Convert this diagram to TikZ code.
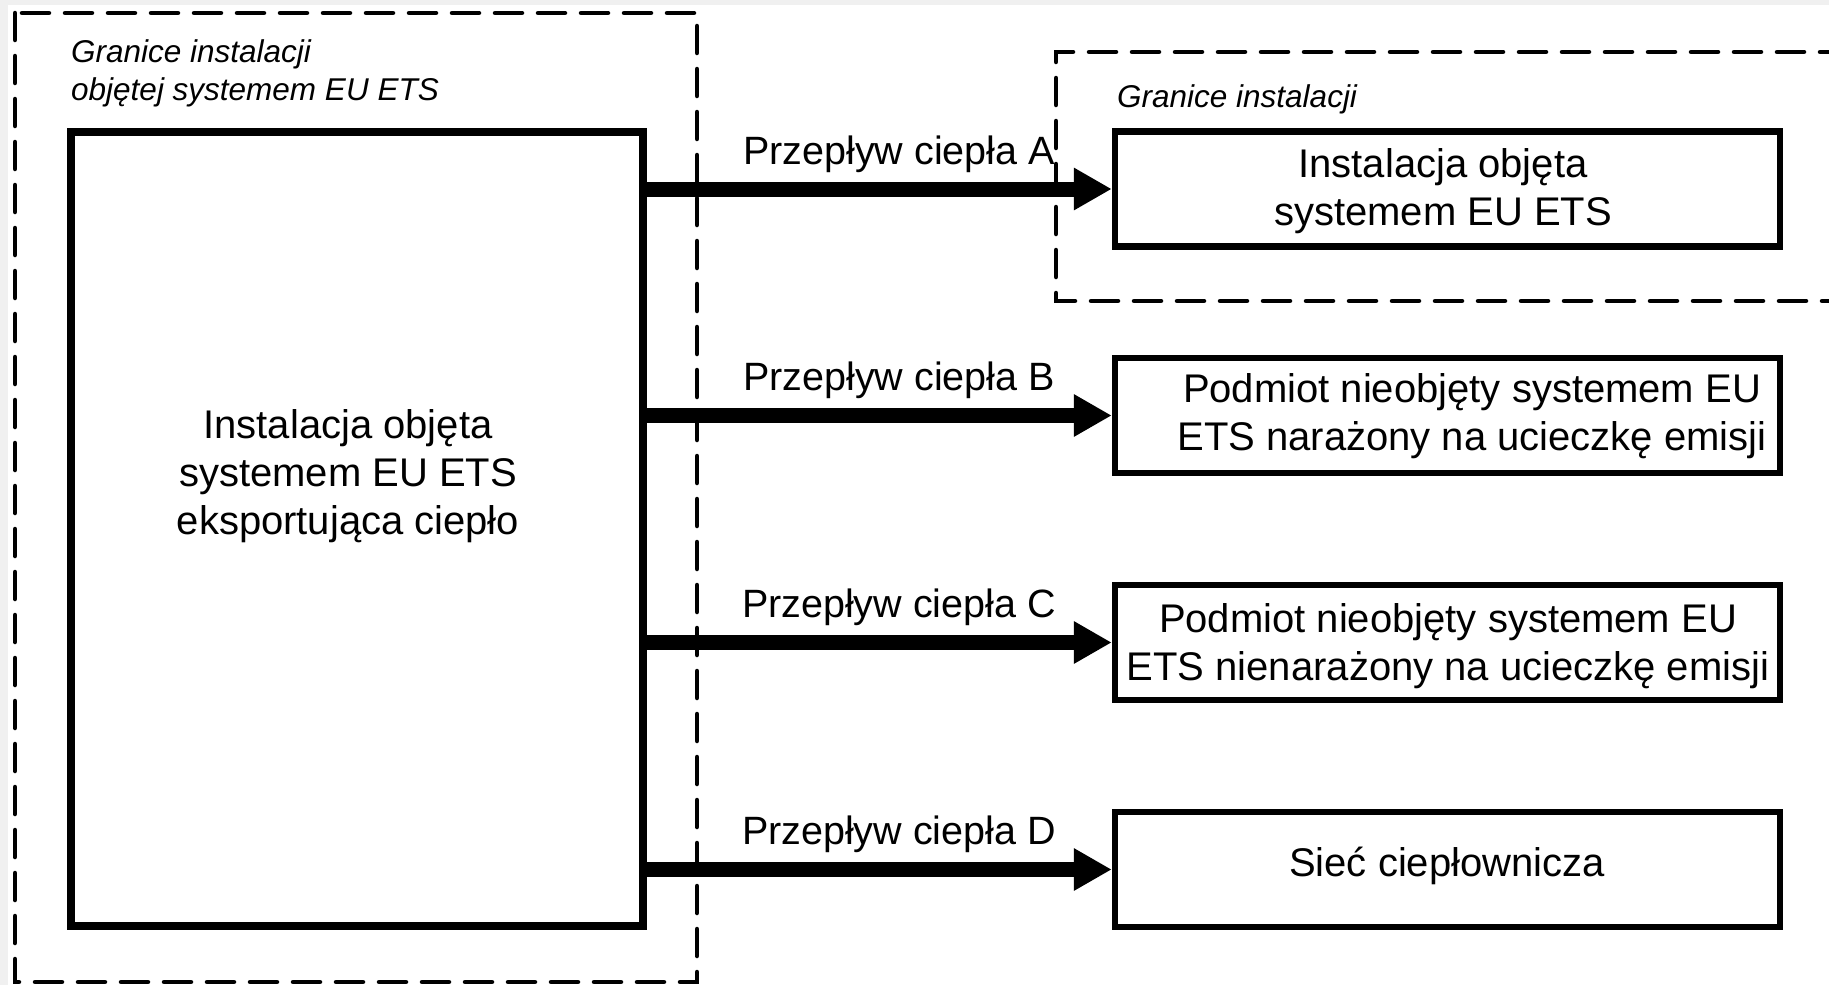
\documentclass[tikz,border=0pt]{standalone}
\usepackage{fontspec}
\setmainfont{Liberation Sans}
\usetikzlibrary{arrows.meta}
\definecolor{bggrey}{HTML}{F0F0F0}
\begin{document}
\begin{tikzpicture}[x=1pt,y=-1pt,
  boundary/.style={line width=4.5pt, dash pattern=on 27pt off 16pt, line cap=round},
  srcbox/.style={draw, line width=8pt, inner sep=0pt, minimum width=572pt, minimum height=794pt},
  tgtbox/.style={draw, line width=6.5pt, inner sep=0pt, minimum width=665pt, minimum height=115pt},
  maintxt/.style={font=\fontsize{40}{48}\selectfont, align=center, inner sep=0pt},
  labtxt/.style={font=\fontsize{39.5}{48}\selectfont, inner sep=0pt, anchor=base},
  bndtxt/.style={font=\fontsize{31.5}{38.5}\selectfont\itshape, align=left, inner sep=0pt},
  flow/.style={line width=15pt, -{Triangle[length=38pt,width=40pt]}}
]
\fill[bggrey] (0,0) rectangle (1829,985);
\fill[white] (8,5) rectangle (1829,985);
\useasboundingbox (0,0) rectangle (1829,985);

% boundaries
\draw[boundary] (15,13) rectangle (697,982);
\draw[boundary] (1890,52) -- (1056,52) -- (1056,301) -- (1890,301);
\node[bndtxt, anchor=north west] (gL) at (71,39) {Granice instalacji\\objętej systemem EU ETS};
\node[bndtxt, anchor=base west] (gR) at (1117,107) {Granice instalacji};

% source installation
\node[srcbox] (src) at (357,529) {};
\node[maintxt] (srct) at (348,476) {Instalacja objęta\\systemem EU ETS\\eksportująca ciepło};

% targets
\node[tgtbox] (bA) at (1447.5,189) {};
\node[tgtbox] (bB) at (1447.5,415.5) {};
\node[tgtbox] (bC) at (1447.5,642.5) {};
\node[tgtbox] (bD) at (1447.5,869.5) {};
\node[maintxt] (tA) at (1443,191) {Instalacja objęta\\systemem EU ETS};
\node[maintxt] (tB) at (1472,416) {Podmiot nieobjęty systemem EU\\ETS narażony na ucieczkę emisji};
\node[maintxt] (tC) at (1448,646) {Podmiot nieobjęty systemem EU\\ETS nienarażony na ucieczkę emisji};
\node[maintxt] (tD) at (1447,866) {Sieć ciepłownicza};

% flows
\draw[flow] (src.east |- bA.west) -- (bA.west);
\draw[flow] (src.east |- bB.west) -- (bB.west);
\draw[flow] (src.east |- bC.west) -- (bC.west);
\draw[flow] (src.east |- bD.west) -- (bD.west);
\node[labtxt] (lA) at (899,164) {Przepływ ciepła A};
\node[labtxt] (lB) at (899,390) {Przepływ ciepła B};
\node[labtxt] (lC) at (899,617) {Przepływ ciepła C};
\node[labtxt] (lD) at (899,844) {Przepływ ciepła D};
\end{tikzpicture}
\end{document}
